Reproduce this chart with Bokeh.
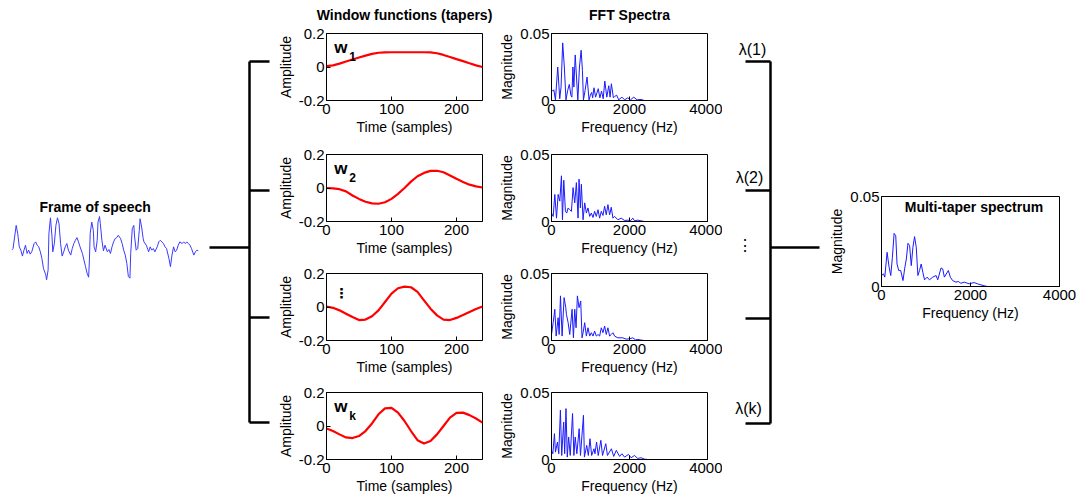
from bokeh.plotting import figure
from bokeh.layouts import row, column
from bokeh.models import Range1d, FixedTicker, Label, Spacer, CustomJSTickFormatter
from bokeh.core.properties import value
from bokeh.embed import file_html
from bokeh.resources import INLINE

FONT = "Liberation Sans"

# ---------------- data ----------------
speech_n = [0, 2, 4, 6, 8, 10, 12, 14, 16, 18, 20, 22, 24, 26, 29, 31, 33, 35, 37, 39, 41, 44, 45, 47, 48,
            50, 52, 53, 55, 57, 59, 61, 63, 65, 67, 69, 71, 73, 76, 78, 80, 82, 84, 86, 88, 91, 93, 95, 97, 99,
            100, 101, 103, 105, 106, 108, 110, 111, 113, 114, 116, 118, 120, 123, 125, 127, 129, 131, 133, 135,
            137, 140, 142, 144, 146, 148, 150, 152, 153, 155, 157, 158, 160, 162, 164, 165, 167, 169, 170, 173,
            175, 176, 178, 180, 182, 184, 187, 189, 191, 193, 195, 197, 199, 202, 204, 206, 208, 210, 212, 214,
            216, 219, 221, 223, 225, 227, 229, 231, 234, 236, 238, 240]
speech_amp = [-0.05, 0.0, 0.35, 0.7, 0.45, 0.05, -0.05, -0.23, -0.05, 0.1, -0.15, -0.05, -0.17, -0.1, 0.15, 0.2,
              0.1, 0.05, -0.1, -0.3, -0.6, -0.8, -0.95, -0.65, 0.45, 0.93, 0.35, -0.1, 0.15, 0.7, 0.93, 0.75,
              0.15, -0.23, -0.1, 0.05, 0.15, -0.05, -0.2, 0.0, 0.15, 0.25, 0.33, 0.2, 0.05, -0.15, -0.35, -0.55,
              -0.75, -0.87, -0.35, 0.45, 0.8, 0.55, 0.05, -0.1, 0.25, 0.8, 0.97, 0.75, 0.25, -0.07, 0.1, -0.1,
              -0.03, -0.15, 0.05, 0.2, 0.3, 0.33, 0.4, 0.3, 0.15, -0.05, -0.2, -0.45, -0.85, -0.9, -0.15, 0.6,
              0.7, 0.35, -0.05, 0.0, 0.55, 0.9, 0.65, 0.3, 0.2, 0.1, -0.03, -0.1, 0.05, -0.05, 0.0, -0.1, 0.05,
              0.2, 0.25, 0.2, 0.15, 0.05, 0.0, -0.3, -0.55, -0.2, 0.05, -0.1, -0.05, 0.1, 0.2, 0.15, 0.2, 0.15,
              0.2, 0.15, 0.1, 0.0, -0.2, -0.1, -0.05, -0.07]

taper_t = [0, 10, 20, 30, 40, 50, 60, 70, 80, 90, 100, 110, 120, 130, 140, 150, 160, 170, 180, 190, 200,
           210, 220, 230, 240]
taper_w1 = [0.005, 0.01, 0.02, 0.033, 0.045, 0.057, 0.068, 0.078, 0.085, 0.087, 0.088, 0.088, 0.088, 0.088,
            0.088, 0.088, 0.087, 0.082, 0.072, 0.06, 0.047, 0.035, 0.022, 0.01, 0.0]
taper_w2 = [0.0, -0.002, -0.007, -0.02, -0.045, -0.065, -0.082, -0.092, -0.094, -0.085, -0.065, -0.035, 0.0,
            0.038, 0.07, 0.09, 0.102, 0.103, 0.094, 0.075, 0.055, 0.036, 0.02, 0.01, 0.003]
taper_w3 = [0.003, -0.005, -0.02, -0.04, -0.06, -0.078, -0.075, -0.055, -0.02, 0.03, 0.08, 0.112, 0.122,
            0.118, 0.09, 0.04, -0.01, -0.05, -0.075, -0.078, -0.065, -0.048, -0.03, -0.012, 0.003]
taper_wk = [-0.015, -0.03, -0.05, -0.068, -0.072, -0.06, -0.03, 0.015, 0.07, 0.105, 0.108, 0.08, 0.03, -0.03,
            -0.085, -0.105, -0.09, -0.05, 0.0, 0.05, 0.078, 0.08, 0.065, 0.045, 0.02]
taper_names = ["1", "2", "", "k"]

spec1_f = [0, 34, 59, 101, 160, 211, 245, 287, 329, 371, 414, 456, 498, 523, 549, 574, 608, 641, 675, 717,
           760, 793, 819, 861, 912, 962, 996, 1030, 1055, 1089, 1131, 1198, 1241, 1283, 1325, 1367, 1418, 1468,
           1502, 1536, 1587, 1620, 1671, 1722, 1806, 1873, 1958, 2025, 2110, 2194, 2296, 2380, 4000]
spec1_m = [0.008, 0.007, 0.008, 0.0005, 0.025, 0.0013, 0.01, 0.043, 0.025, 0.0005, 0.0075, 0.012, 0.0038,
           0.0025, 0.025, 0.01, 0.034, 0.0175, 0.0005, 0.025, 0.0375, 0.0225, 0.0005, 0.0075, 0.0175, 0.0005,
           0.004, 0.006, 0.002, 0.0095, 0.0025, 0.0088, 0.002, 0.007, 0.0013, 0.0145, 0.0025, 0.011, 0.0025,
           0.0125, 0.002, 0.003, 0.004, 0.0005, 0.0025, 0.0005, 0.002, 0.0005, 0.0025, 0.0005, 0.0008, 0.0, 0.0]

spec2_f = [0, 43, 85, 128, 170, 213, 255, 281, 315, 357, 391, 426, 468, 511, 553, 596, 638, 681, 706, 740,
           766, 809, 851, 894, 936, 979, 1021, 1064, 1106, 1149, 1192, 1234, 1277, 1319, 1362, 1404, 1447,
           1490, 1532, 1575, 1617, 1702, 1787, 1872, 1958, 2026, 2085, 2128, 2213, 2298, 2383, 4000]
spec2_m = [0.0063, 0.0038, 0.0202, 0.0025, 0.0202, 0.0152, 0.0341, 0.0013, 0.0308, 0.0076, 0.0063, 0.0101,
           0.0088, 0.0076, 0.0253, 0.0139, 0.029, 0.0025, 0.0316, 0.0101, 0.0278, 0.0013, 0.0139, 0.0063,
           0.0101, 0.0038, 0.0063, 0.003, 0.0076, 0.0038, 0.0088, 0.0025, 0.0076, 0.0045, 0.0114, 0.005,
           0.0126, 0.005, 0.0106, 0.0025, 0.0038, 0.0013, 0.0025, 0.0008, 0.001, 0.0005, 0.0025, 0.0005, 0.001,
           0.0005, 0.0, 0.0]

spec3_f = [0, 43, 85, 119, 170, 196, 230, 272, 323, 366, 383, 426, 468, 528, 562, 596, 630, 664, 706, 749,
           783, 817, 851, 894, 936, 979, 1021, 1064, 1106, 1149, 1192, 1234, 1277, 1319, 1362, 1404, 1447,
           1490, 1532, 1575, 1617, 1702, 1830, 1915, 2000, 2085, 2153, 2213, 2298, 2383, 4000]
spec3_m = [0.0045, 0.0133, 0.0233, 0.0033, 0.017, 0.0045, 0.0333, 0.0033, 0.032, 0.0245, 0.0195, 0.0133,
           0.0045, 0.0233, 0.002, 0.0233, 0.0095, 0.0333, 0.0245, 0.0295, 0.002, 0.007, 0.0133, 0.0033,
           0.0095, 0.0033, 0.0058, 0.0033, 0.007, 0.0033, 0.0045, 0.0033, 0.0095, 0.0058, 0.0108, 0.0045,
           0.0095, 0.0033, 0.0045, 0.0058, 0.0033, 0.002, 0.002, 0.001, 0.0013, 0.002, 0.0005, 0.0008, 0.0003,
           0.0, 0.0]

spec4_f = [0, 34, 76, 101, 152, 186, 228, 262, 312, 338, 371, 405, 439, 481, 540, 574, 608, 650, 709, 743,
           819, 844, 903, 945, 987, 1030, 1089, 1114, 1156, 1198, 1266, 1308, 1392, 1435, 1536, 1595, 1662,
           1747, 1806, 1873, 1975, 2042, 2127, 2211, 2296, 2380, 2464, 4000]
spec4_m = [0.0068, 0.0043, 0.0193, 0.0055, 0.013, 0.0043, 0.0368, 0.003, 0.028, 0.0043, 0.038, 0.0018,
           0.0168, 0.003, 0.0343, 0.003, 0.0168, 0.0043, 0.023, 0.003, 0.033, 0.0018, 0.0105, 0.003, 0.0155,
           0.003, 0.008, 0.0043, 0.013, 0.003, 0.0143, 0.003, 0.0118, 0.003, 0.008, 0.0023, 0.0068, 0.0023,
           0.0043, 0.0018, 0.0038, 0.0013, 0.003, 0.0008, 0.0013, 0.0003, 0.0, 0.0]

mt_f = [0, 45, 74, 126, 171, 208, 245, 283, 320, 349, 387, 431, 483, 520, 558, 595, 632, 669, 706, 743, 781,
        818, 855, 892, 929, 967, 1026, 1078, 1152, 1227, 1264, 1338, 1375, 1413, 1502, 1546, 1598, 1673, 1725,
        1784, 1859, 1970, 2082, 2156, 2305, 2380, 4000]
mt_m = [0.0061, 0.007, 0.0052, 0.019, 0.0107, 0.0061, 0.0162, 0.0295, 0.0282, 0.0125, 0.0089, 0.0089, 0.0033,
        0.0098, 0.0153, 0.024, 0.0227, 0.0116, 0.0218, 0.0277, 0.0218, 0.0061, 0.0089, 0.0125, 0.0079, 0.0037,
        0.0052, 0.0037, 0.0052, 0.0061, 0.0037, 0.0103, 0.0098, 0.0052, 0.0089, 0.0052, 0.0033, 0.0024,
        0.0028, 0.0018, 0.0024, 0.0015, 0.0022, 0.0015, 0.0004, 0.0, 0.0]

taper_ticks_x = [0, 100, 200]
taper_ticks_y = [-0.2, 0, 0.2]
spec_ticks_x = [0, 2000, 4000]
spec_ticks_y = [0, 0.05]
lambda_labels = ["λ(1)", "λ(2)", "⋮", "λ(k)"]

# ---------------- helpers ----------------
FMT = "return tick.toString();"


def base_fig(**kw):
    p = figure(toolbar_location=None, output_backend="svg", background_fill_color="white",
               border_fill_color="white", **kw)
    p.grid.visible = False
    return p


def blank_fig(x0, x1, h):
    p = base_fig(width=x1 - x0, height=h, x_range=Range1d(x0, x1), y_range=Range1d(h, 0),
                 min_border=0, x_axis_location=None, y_axis_location=None)
    p.outline_line_color = None
    return p


def style(p, xt, yt, xlab, ylab):
    p.outline_line_color = "black"
    p.outline_line_width = 1
    p.xaxis.ticker = FixedTicker(ticks=xt)
    p.yaxis.ticker = FixedTicker(ticks=yt)
    for ax in (p.xaxis[0], p.yaxis[0]):
        ax.formatter = CustomJSTickFormatter(code=FMT)
        ax.major_tick_in = 4
        ax.major_tick_out = 0
        ax.minor_tick_line_color = None
        ax.axis_line_color = "black"
        ax.major_tick_line_color = "black"
        ax.major_label_text_font = FONT
        ax.major_label_text_font_size = "15px"
        ax.major_label_text_color = "black"
        ax.axis_label_text_font = FONT
        ax.axis_label_text_font_size = "14px"
        ax.axis_label_text_font_style = "normal"
        ax.axis_label_text_color = "black"
        ax.axis_label_standoff = 2
    p.xaxis.major_label_standoff = 3
    p.yaxis.major_label_standoff = 2
    p.xaxis.axis_label = xlab
    p.yaxis.axis_label = ylab


FRAME_H = 67
HEAD_H = 24
TOPS = [33 - HEAD_H, 16, 14, 14]
BOTS = [38, 38, 38, 39]
C_X0, C_X1 = 272, 496
D_X0, D_X1 = 496, 722
C_BORDERS = (54, 14)
D_BORDERS = (53, 15)


def taper_fig(y, name, i):
    top, bot = TOPS[i], BOTS[i]
    p = base_fig(width=C_X1 - C_X0, height=top + FRAME_H + bot, x_range=Range1d(0, 240),
                 y_range=Range1d(-0.2, 0.2), min_border_left=C_BORDERS[0], min_border_right=C_BORDERS[1],
                 min_border_top=top, min_border_bottom=bot)
    style(p, taper_ticks_x, taper_ticks_y, "Time (samples)", "Amplitude")
    p.line(taper_t, y, line_color="#ff0000", line_width=2.2)
    if name:
        p.add_layout(Label(x=12, y=0.115, text="w", text_font=FONT, text_font_size="17px",
                           text_font_style="bold", text_baseline="middle", text_align="left",
                           text_color="black"))
        p.add_layout(Label(x=35, y=0.06, text=name, text_font=FONT, text_font_size="12px",
                           text_font_style="bold", text_baseline="middle", text_align="left",
                           text_color="black"))
    else:
        p.add_layout(Label(x=23, y=0.082, text="⋮", text_font="DejaVu Sans", text_font_size="14px",
                           text_font_style="bold", text_baseline="middle", text_align="center",
                           text_color="black"))
    return p


def spec_fig(f, m, i):
    top, bot = TOPS[i], BOTS[i]
    p = base_fig(width=D_X1 - D_X0, height=top + FRAME_H + bot, x_range=Range1d(0, 4000),
                 y_range=Range1d(0, 0.05), min_border_left=D_BORDERS[0], min_border_right=D_BORDERS[1],
                 min_border_top=top, min_border_bottom=bot)
    style(p, spec_ticks_x, spec_ticks_y, "Frequency (Hz)", "Magnitude")
    p.line(f, m, line_color="#1a1aff", line_width=1)
    return p


def header(x0, x1, borders, text, offset):
    # an empty strip whose frame lines up with the plots below; its title carries the heading
    p = base_fig(width=x1 - x0, height=HEAD_H, x_range=Range1d(0, 1), y_range=Range1d(0, 1),
                 min_border_left=borders[0], min_border_right=borders[1], min_border_top=HEAD_H - 1,
                 min_border_bottom=0, x_axis_location=None, y_axis_location=None)
    p.outline_line_color = None
    p.title.text = text
    p.title.align = "center"
    p.title.offset = offset
    p.title.text_font = FONT
    p.title.text_font_size = "14px"
    p.title.text_font_style = "bold"
    p.title.text_color = "black"
    p.title.standoff = 2
    return p


# ---------------- column A: speech ----------------
sp = base_fig(width=205, height=92, x_range=Range1d(0, 240), y_range=Range1d(-1.0, 1.0),
              min_border_left=11, min_border_right=7, min_border_top=22, min_border_bottom=4,
              x_axis_location=None, y_axis_location=None)
sp.outline_line_color = None
sp.title.text = "Frame of speech"
sp.title.align = "left"
sp.title.offset = 28
sp.title.text_font = FONT
sp.title.text_font_size = "14px"
sp.title.text_font_style = "bold"
sp.title.text_color = "black"
sp.title.standoff = 1
sp.line(speech_n, speech_amp, line_color="#3a3aff", line_width=1)
colA = column(Spacer(width=205, height=193), sp, Spacer(width=205, height=213))

# ---------------- column B: left bracket ----------------
LB_Y = [61, 190, 317, 422]
lb = blank_fig(205, 272, 498)
lb.segment(x0=[249] * 4 + [249, 209], y0=LB_Y + [61, 247], x1=[269] * 4 + [249, 249], y1=LB_Y + [422, 247],
           line_color="black", line_width=2.5)

# ---------------- columns C, D ----------------
tapers = [taper_w1, taper_w2, taper_w3, taper_wk]
specs = [(spec1_f, spec1_m), (spec2_f, spec2_m), (spec3_f, spec3_m), (spec4_f, spec4_m)]
colC = column(header(C_X0, C_X1, C_BORDERS, "Window functions (tapers)", -4),
              *[taper_fig(w, n, i) for i, (w, n) in enumerate(zip(tapers, taper_names))])
colD = column(header(D_X0, D_X1, D_BORDERS, "FFT Spectra", -3),
              *[spec_fig(f, m, i) for i, (f, m) in enumerate(specs)])

# ---------------- column E: right bracket ----------------
RB_Y = [61, 190, 318, 423]
rb = blank_fig(722, 826, 498)
rb.segment(x0=[745] * 4 + [770, 770], y0=RB_Y + [61, 247], x1=[770] * 4 + [770, 819], y1=RB_Y + [423, 247],
           line_color="black", line_width=2.5)
rb.text(x=[752, 749, 744, 748], y=[49, 177, 245, 408], text=lambda_labels, text_font=value(FONT),
        text_font_size="16px", text_align="center", text_baseline="middle", text_color="black")

# ---------------- column F: multi-taper ----------------
mt = base_fig(width=251, height=10 + 90 + 38, x_range=Range1d(0, 4000), y_range=Range1d(0, 0.05),
              min_border_left=54, min_border_right=18, min_border_top=10, min_border_bottom=38)
style(mt, spec_ticks_x, spec_ticks_y, "Frequency (Hz)", "Magnitude")
mt.line(mt_f, mt_m, line_color="#1a1aff", line_width=1)
mt.add_layout(Label(x=2078, y=0.0439, text="Multi-taper spectrum", text_font=FONT, text_font_size="14px",
                    text_font_style="bold", text_align="center", text_baseline="middle", text_color="black"))
colF = column(Spacer(width=251, height=186), mt, Spacer(width=251, height=174))

layout = row(colA, lb, colC, colD, rb, colF)
open("out.html", "w").write(file_html(layout, INLINE))
